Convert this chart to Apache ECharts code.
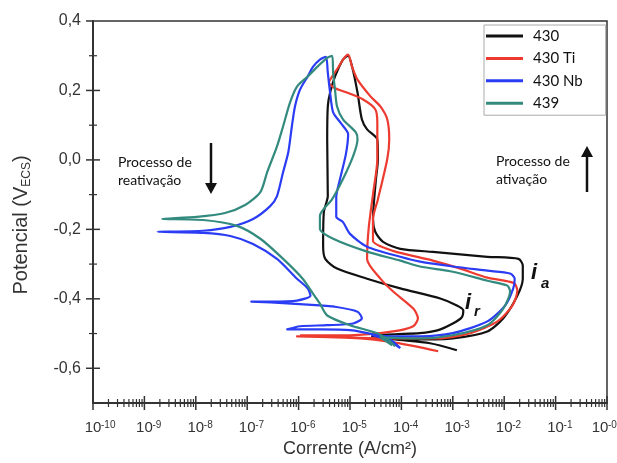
<!DOCTYPE html>
<html><head><meta charset="utf-8">
<script src="https://cdn.jsdelivr.net/npm/echarts@6/dist/echarts.min.js"></script>
<style>html,body{margin:0;padding:0;background:#fff}#c{width:617px;height:463px}</style>
</head><body><div id="c"></div>
<script>
// ---- data (current in A/cm², potential in V vs ECS) ----
const seriesNames = ['430', '430 Ti', '430 Nb', '439'];
const seriesColors = ['#111111', '#ee3b30', '#2a3cf4', '#338a7e'];

const s430_I = [1.2e-3,3.6e-4,7.5e-5,2.7e-5,9.4e-5,2.3e-4,1.0e-3,4.7e-3,9.6e-3,1.8e-2,2.3e-2,2.3e-2,1.9e-2,4.7e-3,4.1e-4,9.5e-5,4.4e-5,3.1e-5,2.8e-5,3.2e-5,3.5e-5,3.4e-5,2.15e-5,1.7e-5,1.4e-5,1.1e-5,9.2e-6,7.3e-6,5.1e-6,4.1e-6,3.7e-6,3.6e-6,3.7e-6,3.1e-6,3.0e-6,3.3e-6,5.6e-6,2.15e-5,9.5e-5,5.7e-4,1.2e-3,1.6e-3,1.5e-3,1.0e-3,5.0e-4,2.3e-4,7.5e-5,3.1e-5];
const s430_V = [-0.548,-0.528,-0.517,-0.508,-0.514,-0.517,-0.514,-0.494,-0.456,-0.391,-0.342,-0.305,-0.285,-0.279,-0.265,-0.256,-0.236,-0.207,-0.170,-0.055,0.002,0.059,0.088,0.117,0.194,0.268,0.300,0.289,0.240,0.194,0.154,0.059,-0.104,-0.150,-0.247,-0.285,-0.313,-0.342,-0.370,-0.399,-0.419,-0.433,-0.453,-0.471,-0.491,-0.499,-0.502,-0.505];

const s430Ti_I = [5.2e-4,1.9e-4,7.5e-5,1.6e-5,9.3e-7,6.4e-6,6.0e-5,5.2e-4,2.2e-3,7.4e-3,1.45e-2,1.8e-2,1.6e-2,1.2e-2,4.7e-3,1.4e-3,4.1e-4,6.9e-5,2.8e-5,2.8e-5,3.5e-5,5.3e-5,5.8e-5,5.3e-5,3.9e-5,2.5e-5,1.4e-5,1.1e-5,9.2e-6,7.3e-6,5.9e-6,4.5e-6,3.9e-6,4.9e-6,8.7e-6,1.8e-5,3.1e-5,3.4e-5,3.4e-5,2.8e-5,2.3e-5,2.15e-5,3.9e-5,6.9e-5,1.7e-4,2.1e-4,1.7e-4,6.9e-5,1.0e-5,1.07e-6];
const s430Ti_V = [-0.551,-0.537,-0.526,-0.514,-0.508,-0.511,-0.514,-0.514,-0.499,-0.465,-0.419,-0.376,-0.356,-0.350,-0.339,-0.313,-0.290,-0.262,-0.233,-0.170,-0.113,0.002,0.059,0.117,0.154,0.183,0.231,0.268,0.303,0.289,0.266,0.240,0.223,0.208,0.194,0.174,0.146,0.108,0.002,-0.099,-0.199,-0.285,-0.342,-0.379,-0.428,-0.456,-0.479,-0.494,-0.505,-0.505];

const s430Nb_I = [9.5e-5,5.5e-5,2.7e-5,7.5e-5,2.3e-4,1.0e-3,4.7e-3,1.05e-2,1.5e-2,1.6e-2,1.3e-2,4.7e-3,1.0e-3,2.3e-4,9.5e-5,2.15e-5,1.0e-5,7.3e-6,5.4e-6,5.4e-6,6.4e-6,8.3e-6,9.2e-6,6.7e-6,4.7e-6,4.1e-6,3.7e-6,3.4e-6,2.6e-6,1.9e-6,1.5e-6,1.07e-6,8.5e-7,7.4e-7,6.3e-7,5.0e-7,3.8e-7,2.8e-7,1.3e-7,4.7e-8,1.4e-8,1.8e-9,1.4e-8,4.7e-8,1.3e-7,3.8e-7,9.3e-7,1.5e-6,1.7e-6,9.3e-7,2.8e-7,1.2e-7,6.0e-7,2.6e-6,4.7e-6,1.4e-5,1.7e-5,1.15e-5,3.6e-6,1.07e-6,6.0e-7,2.6e-6,1.0e-5,3.4e-5,6.0e-5,9.5e-5];
const s430Nb_V = [-0.542,-0.520,-0.505,-0.508,-0.508,-0.499,-0.465,-0.419,-0.370,-0.342,-0.327,-0.319,-0.307,-0.293,-0.279,-0.250,-0.213,-0.179,-0.164,-0.107,-0.055,0.016,0.074,0.105,0.137,0.194,0.251,0.297,0.289,0.268,0.240,0.203,0.154,0.097,0.022,-0.035,-0.104,-0.133,-0.170,-0.193,-0.204,-0.207,-0.210,-0.219,-0.242,-0.285,-0.342,-0.370,-0.391,-0.405,-0.408,-0.408,-0.413,-0.419,-0.422,-0.437,-0.456,-0.471,-0.476,-0.479,-0.488,-0.488,-0.490,-0.505,-0.517,-0.542];

const s439_I = [6.6e-5,3.9e-5,2.3e-4,1.0e-3,4.7e-3,9.6e-3,1.3e-2,1.15e-2,4.7e-3,1.0e-3,2.3e-4,9.5e-5,2.15e-5,4.7e-6,2.6e-6,2.6e-6,4.5e-6,7.3e-6,1.15e-5,1.4e-5,1.3e-5,7.3e-6,5.6e-6,5.1e-6,4.7e-6,4.5e-6,3.6e-6,2.3e-6,1.5e-6,9.3e-7,6.8e-7,5.0e-7,3.8e-7,2.45e-7,1.8e-7,9.1e-8,3.7e-8,1.05e-8,2.2e-9,1.4e-8,6.3e-8,1.8e-7,5.0e-7,1.2e-6,1.9e-6,2.6e-6,3.6e-6,1.0e-5,3.4e-5,6.0e-5,7.5e-5];
const s439_V = [-0.534,-0.511,-0.514,-0.505,-0.476,-0.428,-0.379,-0.362,-0.348,-0.322,-0.307,-0.290,-0.264,-0.227,-0.199,-0.161,-0.113,-0.055,0.011,0.059,0.079,0.117,0.154,0.203,0.251,0.300,0.294,0.268,0.240,0.211,0.165,0.097,0.039,-0.035,-0.093,-0.130,-0.153,-0.164,-0.170,-0.173,-0.190,-0.227,-0.285,-0.342,-0.385,-0.414,-0.448,-0.476,-0.499,-0.522,-0.537];

// ---- axis ticks ----
const xTickValues = [1e-10,1e-9,1e-8,1e-7,1e-6,1e-5,1e-4,1e-3,1e-2,1e-1,1];
const xTickLabels = ['-10','-9','-8','-7','-6','-5','-4','-3','-2','-1','-0'];
const xMinorMultipliers = [2,3,4,5,6,7,8,9];
const yTickValues = [0.4,0.2,0.0,-0.2,-0.4,-0.6];
const yTickLabels = ['0,4','0,2','0,0','-0,2','-0,4','-0,6'];
const yMinorTickValues = [0.3,0.1,-0.1,-0.3,-0.5];

const X_MIN = 1e-10, X_MAX = 1, Y_MIN = -0.7, Y_MAX = 0.4;

function pairs(I, V) { return I.map((v, i) => [v, V[i]]); }
const curves = [pairs(s430_I, s430_V), pairs(s430Ti_I, s430Ti_V), pairs(s430Nb_I, s430Nb_V), pairs(s439_I, s439_V)];

const FONT = '"Liberation Sans", Arial, sans-serif';
const chart = echarts.init(document.getElementById('c'), null, {renderer: 'canvas'});

const tickColor = '#333';
function txt(text, x, y, size, align) {
  return {type: 'text', style: {text, x, y, font: size + 'px ' + FONT, fill: '#333',
    align, verticalAlign: 'middle', textAlign: align, textVerticalAlign: 'middle'}};
}
function renderAxes(params, api) {
  const ch = [];
  const line = (x1, y1, x2, y2, w) => ch.push({type: 'line', shape: {x1, y1, x2, y2}, style: {stroke: tickColor, lineWidth: w}});
  const W = api.getWidth();
  xTickValues.forEach((v, i) => {
    const p = api.coord([v, Y_MIN]);
    line(p[0], p[1] - (i === 0 ? 0 : 7), p[0], p[1] + 7, 1.5);
    const cx = Math.min(p[0], W - 17);
    ch.push(txt('10', cx, p[1] + 25, 15, 'center'));
    ch.push(txt(xTickLabels[i], cx + 8, p[1] + 22.5, 10, 'left'));
  });
  xTickValues.slice(0, -1).forEach(d => {
    xMinorMultipliers.forEach(m => {
      const p = api.coord([d * m, Y_MIN]);
      line(p[0], p[1] - 4, p[0], p[1] + 4, 1.2);
    });
  });
  yTickValues.forEach((v, i) => {
    const p = api.coord([X_MIN, v]);
    line(p[0] - 7, p[1], p[0] + (i === 0 ? 0 : 7), p[1], 1.5);
    ch.push(txt(yTickLabels[i], p[0] - 12, p[1], 16, 'right'));
  });
  yMinorTickValues.forEach(v => {
    const p = api.coord([X_MIN, v]);
    line(p[0] - 4, p[1], p[0] + 4, p[1], 1.2);
  });
  return {type: 'group', children: ch};
}

const option = {
  backgroundColor: '#fff',
  animation: false,
  grid: {left: 93, right: 10, top: 21, bottom: 58, show: true, borderColor: '#333', borderWidth: 1.5, containLabel: false},
  legend: {
    data: seriesNames, orient: 'vertical', left: 484, top: 25,
    backgroundColor: '#fff', borderColor: '#aaa', borderWidth: 1,
    padding: [3, 23, 4, 2], itemGap: 6.4, itemWidth: 37, itemHeight: 3, icon: 'rect',
    textStyle: {fontFamily: 'Lato, "Open Sans", sans-serif', fontSize: 15, color: '#111', lineHeight: 16, padding: [0, 0, 0, 5]}
  },
  xAxis: {
    type: 'log', logBase: 10, min: X_MIN, max: X_MAX,
    name: 'Corrente (A/cm²)', nameLocation: 'middle', nameGap: 37,
    nameTextStyle: {fontFamily: FONT, fontSize: 18, color: '#333'},
    axisLine: {onZero: false, lineStyle: {color: '#333', width: 2}},
    axisTick: {show: false}, splitLine: {show: false}, minorTick: {show: false},
    axisLabel: {show: false}
  },
  yAxis: {
    type: 'value', min: Y_MIN, max: Y_MAX,
    name: '{n|Potencial (V}{s|ECS}{n|)}', nameLocation: 'middle', nameGap: 60,
    nameTextStyle: {
      fontFamily: FONT, fontSize: 20, color: '#333', padding: [0, 26, 0, 0],
      rich: {
        n: {fontFamily: FONT, fontSize: 20, color: '#333', lineHeight: 24},
        s: {fontFamily: FONT, fontSize: 12, color: '#333', lineHeight: 12, verticalAlign: 'bottom'}
      }
    },
    axisLine: {onZero: false, lineStyle: {color: '#333', width: 2}},
    axisTick: {show: false}, splitLine: {show: false},
    axisLabel: {show: false}
  },
  series: seriesNames.map((n, k) => ({
    name: n, type: 'line', data: curves[k], showSymbol: false, symbol: 'none',
    smooth: 0.25, lineStyle: {color: seriesColors[k], width: 2.2, join: 'round'},
    itemStyle: {color: seriesColors[k]}, z: 3 + k
  })).concat([{
    type: 'custom', name: 'axes', coordinateSystem: 'cartesian2d', data: [[X_MIN, Y_MIN]],
    renderItem: renderAxes, silent: true, clip: false, z: 10
  }]),
  graphic: [
    {type: 'text', left: 118, top: 153, style: {text: 'Processo de\nreativação', font: '14px Lato, "Open Sans", sans-serif', fill: '#111', lineHeight: 18}},
    {type: 'line', shape: {x1: 211, y1: 143, x2: 211, y2: 188}, style: {stroke: '#111', lineWidth: 2.5}},
    {type: 'polygon', shape: {points: [[205, 183], [217, 183], [211, 194]]}, style: {fill: '#111'}},
    {type: 'text', left: 496, top: 152, style: {text: 'Processo de\nativação', font: '14px Lato, "Open Sans", sans-serif', fill: '#111', lineHeight: 18}},
    {type: 'line', shape: {x1: 587, y1: 152, x2: 587, y2: 192}, style: {stroke: '#111', lineWidth: 2.5}},
    {type: 'polygon', shape: {points: [[581, 157], [593, 157], [587, 146]]}, style: {fill: '#111'}},
    {type: 'text', left: 531, top: 262, style: {text: 'i', font: 'bold italic 22px ' + FONT, fill: '#111'}},
    {type: 'text', left: 541, top: 276, style: {text: 'a', font: 'bold italic 15px ' + FONT, fill: '#111'}},
    {type: 'text', left: 465, top: 292, style: {text: 'i', font: 'bold italic 22px ' + FONT, fill: '#111'}},
    {type: 'text', left: 474, top: 304, style: {text: 'r', font: 'bold italic 15px ' + FONT, fill: '#111'}}
  ]
};
chart.setOption(option);
</script></body></html>
